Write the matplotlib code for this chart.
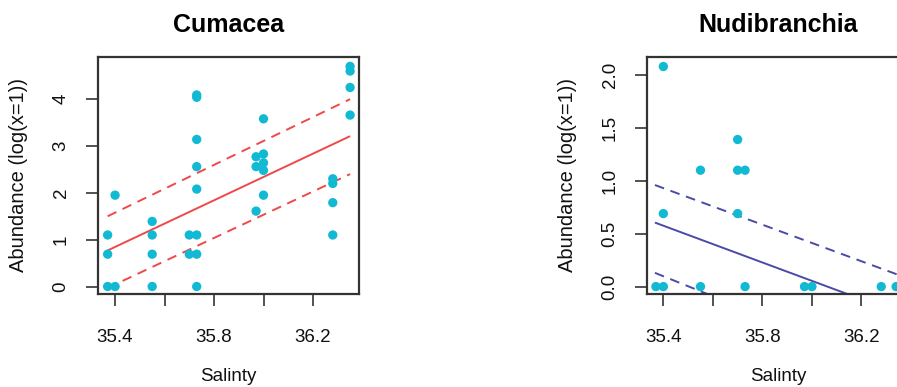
import matplotlib
matplotlib.use('Agg')
import matplotlib.pyplot as plt

plt.rcParams['font.family'] = ['Liberation Sans', 'DejaVu Sans']

# Cumacea: salinidad y abundancia log(x+1)
cum_sal = [35.37, 35.37, 35.37, 35.40, 35.40,
           35.55, 35.55, 35.55, 35.55,
           35.70, 35.70, 35.73, 35.73, 35.73, 35.73, 35.73, 35.73, 35.73, 35.73,
           35.97, 35.97, 35.97, 36.00, 36.00, 36.00, 36.00, 36.00,
           36.28, 36.28, 36.28, 36.28,
           36.35, 36.35, 36.35, 36.35]
cum_abund = [1.10, 0.69, 0.00, 0.00, 1.95,
             1.39, 1.10, 0.69, 0.00,
             1.10, 0.69, 4.09, 4.04, 3.14, 2.56, 2.08, 1.10, 0.69, 0.00,
             2.77, 2.56, 1.61, 3.58, 2.83, 2.48, 2.64, 1.95,
             2.30, 2.20, 1.79, 1.10,
             4.70, 4.60, 4.25, 3.66]
cum_fit_x = [35.37, 36.35]
cum_fit = [0.77, 3.21]
cum_upper = [1.50, 4.00]
cum_lower = [-0.03, 2.40]

# Nudibranchia
nud_sal = [35.37, 35.40, 35.40, 35.40,
           35.55, 35.55,
           35.70, 35.70, 35.70, 35.73, 35.73,
           35.97, 36.00, 36.28, 36.34]
nud_abund = [0.00, 0.00, 0.69, 2.08,
             1.10, 0.00,
             1.39, 1.10, 0.69, 1.10, 0.00,
             0.00, 0.00, 0.00, 0.00]
nud_fit_x = [35.366, 36.35]
nud_fit = [0.605, -0.25]
nud_upper = [0.96, 0.11]
nud_lower = [0.13, -0.80]

x_ticks = [35.4, 35.6, 35.8, 36.0, 36.2]
x_labels = ['35.4', '', '35.8', '', '36.2']

punto = '#12b9d3'

fig = plt.figure(figsize=(8.97, 3.87), dpi=100)
ax1 = fig.add_axes([98/897, 93/387, 261/897, 237/387])
ax2 = fig.add_axes([647/897, 93/387, 262/897, 237/387])


def panel(ax, sal, ab, fx, fit, up, lo, color, titulo, yticks, ylabels, xlim, ylim):
    # recta ajustada y bandas
    ax.plot(fx, fit, color=color, lw=1.4, solid_capstyle='butt')
    ax.plot(fx, up, color=color, lw=1.4, dashes=(5, 3.5))
    ax.plot(fx, lo, color=color, lw=1.4, dashes=(5, 3.5))
    ax.scatter(sal, ab, s=45, color=punto, edgecolors='none', zorder=3)
    ax.set_xlim(xlim)
    ax.set_ylim(ylim)
    ax.set_xticks(x_ticks)
    ax.set_xticklabels(x_labels)
    ax.set_yticks(yticks)
    ax.set_yticklabels(ylabels, rotation=90, va='center')
    ax.tick_params(axis='both', direction='out', length=8.5, width=1.1,
                   color='#222222', labelsize=13.5, labelcolor='#111111')
    ax.tick_params(axis='x', pad=17)
    ax.tick_params(axis='y', pad=12)
    for s in ax.spines.values():
        s.set_linewidth(1.6)
        s.set_color('#333333')
    ax.set_title(titulo, fontsize=18, fontweight='bold', pad=18)
    ax.set_xlabel('Salinty', fontsize=13.5, color='#111111')
    ax.xaxis.set_label_coords(0.5, -74/237)
    ax.set_ylabel('Abundance (log(x=1))', fontsize=14.5, color='#111111')
    ax.yaxis.set_label_coords(-70/261, 0.5)


panel(ax1, cum_sal, cum_abund, cum_fit_x, cum_fit, cum_upper, cum_lower,
      '#f04848', 'Cumacea', [0, 1, 2, 3, 4], ['0', '1', '2', '3', '4'],
      (35.331, 36.386), (-0.16, 4.9))
panel(ax2, nud_sal, nud_abund, nud_fit_x, nud_fit, nud_upper, nud_lower,
      '#4a4aa8', 'Nudibranchia', [0, 0.5, 1.0, 1.5, 2.0],
      ['0.0', '0.5', '1.0', '1.5', '2.0'],
      (35.334, 36.392), (-0.07, 2.17))

fig.savefig('out.png', dpi=100)
